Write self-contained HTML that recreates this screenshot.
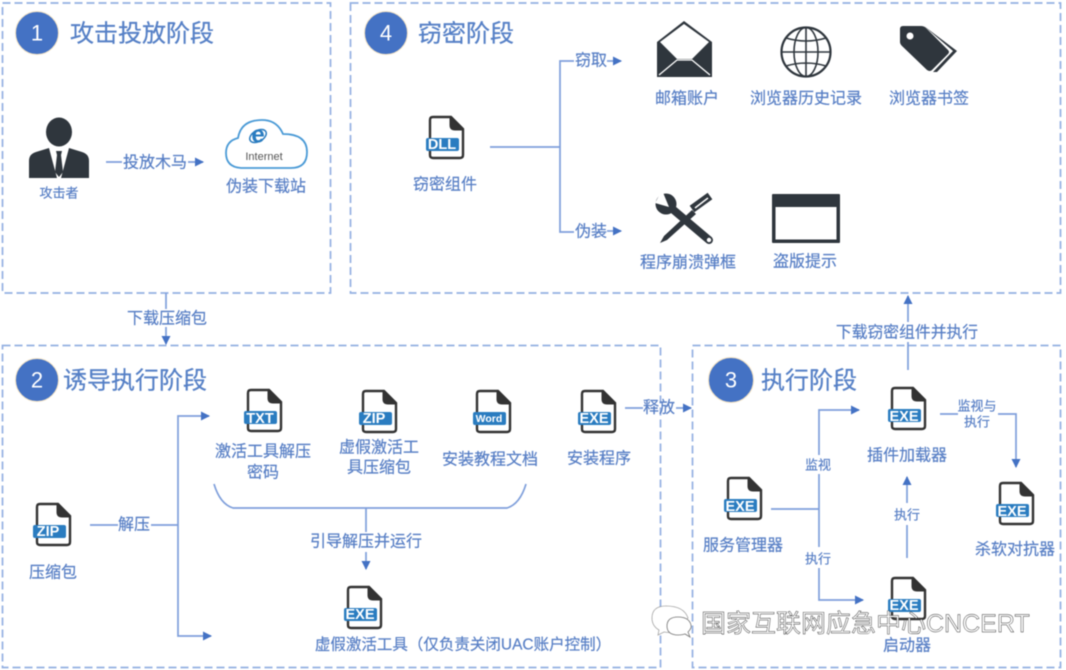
<!DOCTYPE html>
<html><head><meta charset="utf-8">
<style>
html,body{margin:0;padding:0;background:#fff;width:1066px;height:670px;overflow:hidden}
svg{display:block;filter:blur(.55px)}
text{font-family:"Liberation Sans","Noto Sans CJK SC",sans-serif;fill:#587fc5;text-anchor:middle;dominant-baseline:central;transform:translateY(1px)}
.t{font-size:24px;fill:#5680c6;text-anchor:start;stroke:#5680c6;stroke-width:.25px}
.n{font-size:22px;fill:#fff}
.l{font-size:16px;stroke:#587fc5;stroke-width:.2px}
.s{font-size:13px;stroke:#587fc5;stroke-width:.2px}
.b{fill:none;stroke:#94b0e2;stroke-width:1.7;stroke-dasharray:8 4}
.c{fill:none;stroke:#7f9fdb;stroke-width:1.7}
.tag{font-size:14.500px;font-weight:bold;fill:#fff}
.d{fill:#2f363d}
</style></head><body>
<svg width="1066" height="670" viewBox="0 0 1066 670" xmlns="http://www.w3.org/2000/svg">
<defs>
<g id="f">
<path d="M4 1H22L34 13V39Q34 42 31 42H4Q1 42 1 39V4Q1 1 4 1Z" fill="#fff" stroke="#333" stroke-width="2.4"/>
<path d="M21 1V9Q21 14 26 14H34Z" fill="#333" stroke="#333"/>
<rect x="-3" y="22" width="33" height="13" rx="2" fill="#2a7cc0"/>
</g>
<marker id="a" markerWidth="10" markerHeight="10" refX="8" refY="4.500" orient="auto" markerUnits="userSpaceOnUse"><path d="M0 0L9 4.500L0 9Z" fill="#4472c4"/></marker>
</defs>

<rect class="b" x="2.500" y="3" width="328" height="290"/>
<rect class="b" x="350.500" y="3" width="710" height="290"/>
<rect class="b" x="2.500" y="345.500" width="658" height="322"/>
<rect class="b" x="692.500" y="345.500" width="368" height="322"/>

<circle cx="37" cy="33" r="21.500" fill="#4472c4" stroke="#f4e3c4" stroke-width="1"/><text class="n" x="37" y="32">1</text>
<circle cx="386" cy="33" r="21.500" fill="#4472c4" stroke="#f4e3c4" stroke-width="1"/><text class="n" x="386" y="32">4</text>
<circle cx="37" cy="380" r="21.500" fill="#4472c4" stroke="#f4e3c4" stroke-width="1"/><text class="n" x="37" y="379">2</text>
<circle cx="731" cy="380" r="22.500" fill="#4472c4" stroke="#f4e3c4" stroke-width="1"/><text class="n" x="731" y="379">3</text>
<text class="t" x="70" y="33">攻击投放阶段</text>
<text class="t" x="418" y="33">窃密阶段</text>
<text class="t" x="63" y="380">诱导执行阶段</text>
<text class="t" x="761" y="380">执行阶段</text>

<!-- attacker -->
<ellipse class="d" cx="59" cy="132" rx="13" ry="14.500"/>
<path class="d" d="M29 178V161Q29 154 36 152L49 148L57 178ZM89 178V161Q89 154 82 152L69 148L61 178Z"/>
<path class="d" d="M56 151H62L61 155L63 172L59 177L55 172L57 155Z"/>
<text class="s" x="59" y="192">攻击者</text>
<path class="c" d="M106 162H122M188 162H203" marker-end="url(#a)"/>
<text class="l" x="155" y="162">投放木马</text>
<!-- cloud -->
<path d="M241 168Q226 167 226 153Q226 141 238 138Q241 120 262 120Q277 120 283 134Q307 134 307 152Q307 168 291 168Z" fill="#fff" stroke="#4a9ad6" stroke-width="1.800"/>
<ellipse cx="258" cy="136" rx="9" ry="5.500" fill="none" stroke="#2a7cc0" stroke-width="1.500" transform="rotate(-30 258 136)"/>
<text x="258" y="134" style="font-size:24px;font-weight:bold;fill:#2a7cc0">e</text>
<text x="264" y="156" style="font-size:11px;fill:#555">Internet</text>
<text class="l" x="266" y="186">伪装下载站</text>

<path class="c" d="M166 293V309"/><path class="c" d="M166 327V344" marker-end="url(#a)"/>
<text class="l" x="167" y="318">下载压缩包</text>

<!-- stage 4 -->
<use href="#f" x="429" y="116"/><text class="tag" x="442" y="144">DLL</text>
<text class="l" x="445" y="184">窃密组件</text>
<path class="c" d="M490 147H560"/>
<path class="c" d="M574 61H560V232H574"/>
<path class="c" d="M607 61H621" marker-end="url(#a)"/>
<path class="c" d="M607 231H621" marker-end="url(#a)"/>
<text class="l" x="591" y="60">窃取</text>
<text class="l" x="591" y="231">伪装</text>

<!-- mail -->
<path class="d" d="M657 42L684 21L712 42V77H657Z"/>
<path d="M660 42L684 24L709 42L692 59H677Z" fill="#fff"/>
<path d="M659 75L677 60H692L710 75" fill="none" stroke="#fff" stroke-width="1.300"/>
<text class="l" x="687" y="98">邮箱账户</text>
<!-- globe -->
<g fill="none" stroke="#2f363d" stroke-width="1.600">
<circle cx="806" cy="52" r="24.500" stroke-width="2.200"/>
<ellipse cx="806" cy="52" rx="12" ry="24.500"/>
<path d="M806 27V77M782 52H830M786 38Q806 44 826 38M786 66Q806 60 826 66"/>
</g>
<text class="l" x="806" y="98">浏览器历史记录</text>
<!-- tags -->
<path class="d" d="M903 26H924L957 51L937 72H933L953 51L924 26Z"/>
<path class="d" d="M903 26H921Q924 26 926 28L948 50Q950 52 948 54L932 70Q930 72 927 70L902 46Q900 44 900 42V29Q900 26 903 26Z"/>
<circle cx="910" cy="36" r="3.500" fill="#fff"/>
<text class="l" x="929" y="98">浏览器书签</text>
<!-- tools -->
<path d="M670 207L709 240" stroke="#2f363d" stroke-width="8" stroke-linecap="round"/>
<circle class="d" cx="666" cy="204" r="10.500"/>
<path d="M669 207L655 203L662 190Z" fill="#fff"/>
<circle cx="709" cy="240" r="2.200" fill="#fff"/>
<path d="M660 243L664 236L692 210L696 214L667 240Z" class="d"/>
<path d="M692 209L710 196" stroke="#2f363d" stroke-width="8"/>
<path d="M695 208L708 198" stroke="#fff" stroke-width="1.500"/>
<text class="l" x="688" y="262">程序崩溃弹框</text>
<!-- window -->
<rect class="d" x="772" y="194" width="68" height="49" rx="1"/>
<rect x="775.500" y="207" width="61" height="32.500" fill="#fff"/>
<text class="l" x="805" y="261">盗版提示</text>

<path class="c" d="M908 370V342"/><path class="c" d="M908 322V296" marker-end="url(#a)"/>
<text class="l" x="907" y="332" style="font-size:15.800px">下载窃密组件并执行</text>

<!-- stage 2 -->
<use href="#f" x="36" y="503"/><text class="tag" x="48" y="531">ZIP</text>
<text class="l" x="53" y="572">压缩包</text>
<path class="c" d="M90 525H118M151 525H178"/>
<path class="c" d="M178 525V416H209" marker-end="url(#a)"/>
<path class="c" d="M178 525V636H211" marker-end="url(#a)"/>
<text class="l" x="134" y="524">解压</text>

<use href="#f" x="247" y="389"/><text class="tag" x="260" y="418">TXT</text>
<text class="l" x="263" y="451">激活工具解压</text><text class="l" x="263" y="472">密码</text>
<use href="#f" x="362" y="390"/><text class="tag" x="374" y="418">ZIP</text>
<text class="l" x="379" y="447">虚假激活工</text><text class="l" x="379" y="467">具压缩包</text>
<use href="#f" x="476" y="390"/><text x="489" y="418" style="font-size:10.500px;font-weight:bold;fill:#fff">Word</text>
<text class="l" x="490" y="459">安装教程文档</text>
<use href="#f" x="581" y="390"/><text class="tag" x="594" y="418">EXE</text>
<text class="l" x="599" y="458">安装程序</text>
<path class="c" d="M625 408H643"/><path class="c" d="M676 408H691" marker-end="url(#a)"/>
<text class="l" x="659" y="407">释放</text>
<path class="c" d="M214 484Q220 504 233 508H507Q520 504 526 484"/>
<path class="c" d="M366 508V532"/><path class="c" d="M366 552V569" marker-end="url(#a)"/>
<text class="l" x="366" y="541">引导解压并运行</text>
<use href="#f" x="347" y="586"/><text class="tag" x="360" y="614">EXE</text>
<text class="l" x="463" y="644" style="font-size:15.500px">虚假激活工具（仅负责关闭UAC账户控制）</text>

<!-- stage 3 -->
<use href="#f" x="727" y="477"/><text class="tag" x="740" y="506">EXE</text>
<text class="l" x="743" y="545">服务管理器</text>
<path class="c" d="M771 509H819"/>
<path class="c" d="M819 455V410H859" marker-end="url(#a)"/>
<path class="c" d="M819 474V547"/>
<path class="c" d="M819 568V600H863" marker-end="url(#a)"/>
<text class="s" x="818" y="464">监视</text>
<text class="s" x="818" y="558">执行</text>
<use href="#f" x="891" y="387"/><text class="tag" x="904" y="416">EXE</text>
<text class="l" x="907" y="455">插件加载器</text>
<path class="c" d="M940 414H958M998 414H1016V467" marker-end="url(#a)"/>
<text class="s" x="977" y="405">监视与</text><text class="s" x="977" y="421">执行</text>
<path class="c" d="M907 558V525"/><path class="c" d="M907 503V477" marker-end="url(#a)"/>
<text class="s" x="907" y="514">执行</text>
<use href="#f" x="999" y="482"/><text class="tag" x="1012" y="511">EXE</text>
<text class="l" x="1015" y="549">杀软对抗器</text>
<use href="#f" x="891" y="577"/><text class="tag" x="904" y="605">EXE</text>
<text class="l" x="907" y="645">启动器</text>

<!-- watermark -->
<g fill="#fff" stroke="#666" stroke-width=".8">
<path d="M666 606Q652 606 652 618Q652 626 659 630L658 635L664 632Q670 633 674 632L688 618Q684 606 666 606Z" stroke-opacity=".6"/>
<path d="M678 617Q667 617 667 626Q667 635 678 635Q682 635 685 634L690 637L688 632Q692 628 691 625Q689 617 678 617Z" stroke-opacity=".9"/>
</g>
<text x="701" y="623" style="font-size:25px;text-anchor:start;fill:#fff;stroke:#333;stroke-width:.45px">国家互联网应急中心CNCERT</text>
</svg>
</body></html>
